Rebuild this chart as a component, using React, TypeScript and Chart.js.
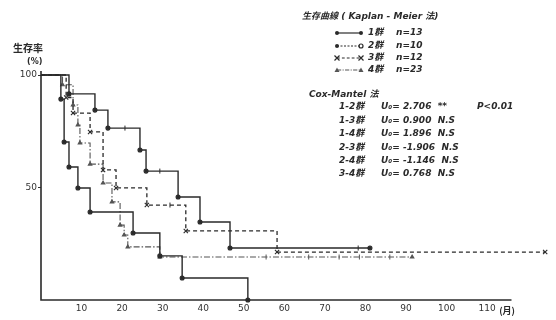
import React, { useEffect, useRef } from "react";
import { Chart, registerables } from "chart.js";

Chart.register(...registerables);

// ---- data ----
const xTickValues = [10, 20, 30, 40, 50, 60, 70, 80, 90, 100, 110];
const yTickValues = [50, 100];
const groupLabels = ["1群", "2群", "3群", "4群"];
const groupN = [13, 10, 12, 23];

const g1Time = [0, 6.9, 13.3, 16.5, 24.4, 25.9, 33.8, 39.2, 46.6, 81.1];
const g1Surv = [100, 91.6, 84.4, 76.4, 66.7, 57.3, 45.8, 34.7, 23.1, 23.1];
const g1Censor = [20.7, 29.3, 78.2];

const g2Time = [0, 4.9, 5.7, 6.9, 9.1, 12.1, 22.7, 29.3, 34.8, 51.0];
const g2Surv = [100, 89.3, 70.2, 59.1, 49.8, 39.1, 29.8, 19.6, 9.8, 0];
const g2Censor: number[] = [];

const g3Time = [0, 6.2, 7.9, 12.1, 15.3, 18.5, 26.1, 35.7, 58.2, 124.3];
const g3Surv = [100, 90.0, 83.1, 74.7, 57.8, 49.8, 42.2, 30.7, 21.3, 21.3];
const g3Censor = [31.8];

const g4Time = [0, 5.3, 7.9, 9.1, 9.6, 12.1, 15.3, 17.5, 19.5, 20.5, 21.4, 29.3, 91.5];
const g4Surv = [100, 95.7, 86.7, 77.8, 69.8, 60.4, 52.0, 43.6, 33.3, 28.9, 23.6, 19.1, 19.1];
const g4Censor = [55.5, 66, 73.5, 78.5, 86];

const coxPairs = ["1-2群", "1-3群", "1-4群", "2-3群", "2-4群", "3-4群"];
const coxU = ["2.706", "0.900", "1.896", "-1.906", "-1.146", "0.768"];
const coxSig = ["**", "N.S", "N.S", "N.S", "N.S", "N.S"];
const coxP = ["P<0.01", "", "", "", "", ""];

const INK = "#2a2a2a";
const HAND = 'italic bold 9px "DejaVu Sans", "Noto Sans CJK JP", sans-serif';

const groups = [
  { time: g1Time, surv: g1Surv, censor: g1Censor, dash: [] as number[], width: 1.4, style: "circle", radius: 2, color: INK },
  { time: g2Time, surv: g2Surv, censor: g2Censor, dash: [] as number[], width: 1.4, style: "circle", radius: 2, color: INK },
  { time: g3Time, surv: g3Surv, censor: g3Censor, dash: [4, 3], width: 1.3, style: "crossRot", radius: 3, color: INK },
  { time: g4Time, surv: g4Surv, censor: g4Censor, dash: [6, 2, 1.5, 2], width: 1.1, style: "triangle", radius: 2, color: "#555" },
];

function survAt(times: number[], surv: number[], t: number) {
  let y = surv[0];
  for (let i = 0; i < times.length; i++) if (times[i] <= t) y = surv[i];
  return y;
}

const textPlugin = {
  id: "texts",
  afterDraw(chart: any) {
    const ctx = chart.ctx as CanvasRenderingContext2D;
    const xs = chart.scales.x;
    const area = chart.chartArea;
    ctx.save();
    // axes
    ctx.strokeStyle = INK;
    ctx.lineWidth = 1.6;
    ctx.setLineDash([]);
    ctx.beginPath();
    ctx.moveTo(area.left, area.top - 4);
    ctx.lineTo(area.left, area.bottom);
    ctx.lineTo(xs.getPixelForValue(116), area.bottom);
    ctx.stroke();

    // y title
    ctx.fillStyle = INK;
    ctx.textBaseline = "middle";
    ctx.textAlign = "left";
    ctx.font = 'bold 10px "Noto Sans CJK JP", sans-serif';
    ctx.fillText("生存率", 13, 48);
    ctx.font = 'bold 8px "DejaVu Sans", sans-serif';
    ctx.fillText("(%)", 27, 62);
    // unit
    ctx.font = 'bold 9px "Noto Sans CJK JP", sans-serif';
    ctx.fillText("(月)", xs.getPixelForValue(110) + 12, 311);

    // title
    ctx.font = HAND;
    ctx.fillText("生存曲線 ( Kaplan - Meier 法)", 302, 17);

    // legend
    const rowY = [33, 46, 58, 70];
    groups.forEach((g, i) => {
      const y = rowY[i];
      const x0 = 337, x1 = 361;
      ctx.strokeStyle = g.color;
      ctx.lineWidth = 1.2;
      ctx.setLineDash(i === 1 ? [2, 1.5] : g.dash.map((d) => d * 0.7));
      ctx.beginPath();
      ctx.moveTo(x0, y);
      ctx.lineTo(x1, y);
      ctx.stroke();
      ctx.setLineDash([]);
      [x0, x1].forEach((px, k) => {
        ctx.fillStyle = g.color;
        if (g.style === "circle") {
          ctx.beginPath();
          ctx.arc(px, y, 2, 0, Math.PI * 2);
          if (i === 1 && k === 1) ctx.stroke();
          else ctx.fill();
        } else if (g.style === "crossRot") {
          ctx.beginPath();
          ctx.moveTo(px - 2.5, y - 2.5);
          ctx.lineTo(px + 2.5, y + 2.5);
          ctx.moveTo(px + 2.5, y - 2.5);
          ctx.lineTo(px - 2.5, y + 2.5);
          ctx.stroke();
        } else {
          ctx.beginPath();
          ctx.moveTo(px, y - 2.5);
          ctx.lineTo(px + 2.5, y + 2);
          ctx.lineTo(px - 2.5, y + 2);
          ctx.closePath();
          ctx.fill();
        }
      });
      ctx.fillStyle = INK;
      ctx.font = HAND;
      ctx.fillText(groupLabels[i], 368, y);
      ctx.fillText("n=" + groupN[i], 396, y);
    });

    // Cox-Mantel
    ctx.font = HAND;
    ctx.fillText("Cox-Mantel 法", 309, 95);
    coxPairs.forEach((p, i) => {
      const y = 107 + i * 13.4;
      ctx.fillText(p, 339, y);
      ctx.fillText("U₀= " + coxU[i] + "  " + coxSig[i], 381, y);
      if (coxP[i]) ctx.fillText(coxP[i], 477, y);
    });
    ctx.restore();
  },
};

export default function App() {
  const ref = useRef<HTMLCanvasElement | null>(null);
  useEffect(() => {
    if (!ref.current) return;
    const lineSets = groups.map((g) => ({
      type: "line" as const,
      data: g.time.map((t, i) => ({ x: t, y: g.surv[i] })),
      stepped: "before" as const,
      borderColor: g.color,
      borderWidth: g.width,
      borderDash: g.dash,
      pointStyle: g.style as any,
      pointRadius: (c: any) => (c.dataIndex === 0 ? 0 : g.radius),
      pointBorderColor: g.color,
      pointBackgroundColor: g.color,
      pointBorderWidth: 1.1,
      fill: false,
      tension: 0,
      clip: false as any,
    }));
    const censorSets = groups.map((g) => ({
      type: "scatter" as const,
      data: g.censor.map((t) => ({ x: t, y: survAt(g.time, g.surv, t) })),
      pointStyle: "line" as const,
      rotation: 90,
      pointRadius: 2.5,
      borderColor: g.color,
      pointBorderWidth: 1,
      showLine: false,
      clip: false as any,
    }));
    const chart = new Chart(ref.current, {
      type: "line",
      data: { datasets: [...lineSets, ...censorSets] as any },
      options: {
        animation: false,
        responsive: false,
        maintainAspectRatio: false,
        layout: { padding: { top: 75, right: 8, left: 0, bottom: 0 } },
        plugins: { legend: { display: false }, tooltip: { enabled: false } },
        scales: {
          x: {
            type: "linear",
            min: 0,
            max: 125,
            afterBuildTicks: (s: any) => {
              s.ticks = xTickValues.map((v) => ({ value: v }));
            },
            afterFit: (s: any) => {
              s.height = 20;
            },
            grid: { display: false, drawTicks: false },
            border: { display: false },
            ticks: {
              autoSkip: false,
              maxRotation: 0,
              padding: 3,
              color: "#333",
              font: { family: '"DejaVu Sans", sans-serif', size: 9 },
            },
          },
          y: {
            type: "linear",
            min: 0,
            max: 100,
            afterBuildTicks: (s: any) => {
              s.ticks = yTickValues.map((v) => ({ value: v }));
            },
            afterFit: (s: any) => {
              s.width = 41;
            },
            grid: { display: true, drawOnChartArea: false, drawTicks: true, tickLength: 3, color: "#333" },
            border: { display: false },
            ticks: {
              padding: 1,
              color: "#333",
              font: { family: '"DejaVu Sans", sans-serif', size: 9 },
            },
          },
        },
      },
      plugins: [textPlugin],
    });
    return () => chart.destroy();
  }, []);
  return (
    <div style={{ position: "absolute", left: 0, top: 0, width: 556, height: 320, background: "#fff" }}>
      <canvas ref={ref} width={556} height={320} />
    </div>
  );
}
